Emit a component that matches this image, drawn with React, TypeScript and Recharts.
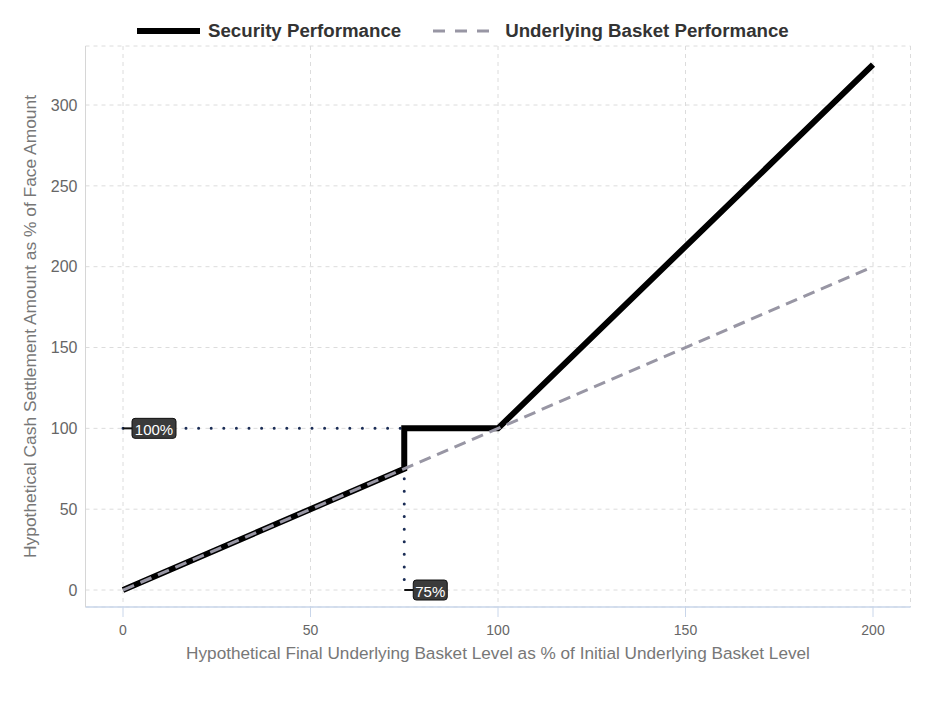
import React from 'react';
import {
  LineChart,
  Line,
  XAxis,
  YAxis,
  CartesianGrid,
  ReferenceLine,
  ReferenceDot,
  Legend,
} from 'recharts';

// ---- data ----
const securityLevels = [0, 75, 75, 100, 200];
const securityValues = [0, 75, 100, 100, 325];
const basketLevels = [0, 200];
const basketValues = [0, 200];
const xTicks = [0, 50, 100, 150, 200];
const yTicks = [0, 50, 100, 150, 200, 250, 300];
const seriesNames = ['Security Performance', 'Underlying Basket Performance'];
const annotationX = [0, 75];
const annotationY = [100, 0];
const annotationLabels = ['100%', '75%'];
const guideH = [
  { x: 0, y: 100 },
  { x: 75, y: 100 },
];
const guideV = [
  { x: 75, y: 100 },
  { x: 75, y: 0 },
];
const xLabel = 'Hypothetical Final Underlying Basket Level as % of Initial Underlying Basket Level';
const yLabel = 'Hypothetical Cash Settlement Amount as % of Face Amount';

const securityData = securityLevels.map((x, i) => ({ x, y: securityValues[i] }));
const basketData = basketLevels.map((x, i) => ({ x, y: basketValues[i] }));

const FONT = '"Liberation Sans", Arial, Helvetica, sans-serif';
const GUIDE = '#1a2c55';

const AnnotationShape = (props: any) => {
  const { cx, cy, label } = props;
  if (cx == null || cy == null) return null;
  const w = label.length * 10 + 4;
  const h = 20;
  const bx = cx + 9;
  return (
    <g>
      <line x1={cx} y1={cy} x2={bx} y2={cy} stroke="#111" strokeWidth={2} />
      <rect x={bx} y={cy - h / 2} width={w} height={h} rx={3} ry={3} fill="#3b3b3b" stroke="#111" strokeWidth={1} />
      <text
        x={bx + w / 2}
        y={cy + 1}
        textAnchor="middle"
        dominantBaseline="central"
        fill="#ffffff"
        fontSize={15}
        fontFamily={FONT}
      >
        {label}
      </text>
    </g>
  );
};

const LegendContent = () => (
  <div
    style={{
      display: 'flex',
      alignItems: 'center',
      marginLeft: 129,
      fontFamily: FONT,
      fontWeight: 'bold',
      fontSize: 18.7,
      color: '#333',
      height: 24,
      whiteSpace: 'nowrap',
    }}
  >
    <svg width={63} height={10} style={{ marginRight: 8 }}>
      <line x1={0} y1={5} x2={63} y2={5} stroke="#000" strokeWidth={6} />
    </svg>
    <span>{seriesNames[0]}</span>
    <svg width={58} height={10} style={{ marginLeft: 32, marginRight: 14 }}>
      <line x1={0} y1={5} x2={58} y2={5} stroke="#9896a4" strokeWidth={3} strokeDasharray="12 10" />
    </svg>
    <span>{seriesNames[1]}</span>
  </div>
);

export default function App() {
  return (
    <div style={{ width: 922, height: 690, background: '#fff' }}>
      <LineChart
        width={922}
        height={690}
        margin={{ top: 38, right: 19.5, left: 0, bottom: 0 }}
        style={{ fontFamily: FONT }}
      >
        <CartesianGrid stroke="#dcdcdc" strokeDasharray="4 4" strokeWidth={1} />
        <XAxis
          type="number"
          dataKey="x"
          domain={[-10, 210]}
          ticks={xTicks}
          allowDataOverflow
          height={91}
          stroke="#c9d6ea"
          tickSize={10}
          tickMargin={8}
          tickLine={{ stroke: '#c9d6ea' }}
          axisLine={{ stroke: '#c9d6ea', strokeWidth: 1.5 }}
          tick={{ fill: '#666', fontSize: 14, fontFamily: FONT }}
          label={{
            content: (p: any) => {
              const vb = p.viewBox || { x: 77.5, y: 599, width: 825 };
              return (
                <text
                  x={vb.x + vb.width / 2}
                  y={vb.y + 52}
                  textAnchor="middle"
                  fill="#777"
                  fontSize={17.2}
                  fontFamily={FONT}
                >
                  {xLabel}
                </text>
              );
            },
          }}
        />
        <XAxis
          xAxisId="top"
          orientation="top"
          type="number"
          domain={[-10, 210]}
          height={0}
          tick={false}
          tickLine={false}
          axisLine={{ stroke: '#d6d6d6' }}
        />
        <YAxis
          type="number"
          domain={[-10.5, 336.5]}
          ticks={yTicks}
          allowDataOverflow
          width={77.5}
          tickLine={false}
          axisLine={{ stroke: '#d6d6d6' }}
          tick={{ fill: '#666', fontSize: 16, fontFamily: FONT }}
          label={{
            content: (p: any) => {
              const vb = p.viewBox || { x: 0, y: 38, height: 561 };
              const cx = vb.x + 22;
              const cy = vb.y + vb.height / 2;
              return (
                <text
                  x={cx}
                  y={cy}
                  transform={`rotate(-90 ${cx} ${cy})`}
                  textAnchor="middle"
                  dominantBaseline="central"
                  fill="#777"
                  fontSize={17.4}
                  fontFamily={FONT}
                >
                  {yLabel}
                </text>
              );
            },
          }}
        />
        <YAxis
          yAxisId="right"
          orientation="right"
          type="number"
          domain={[-10.5, 336.5]}
          width={0}
          tick={false}
          tickLine={false}
          axisLine={{ stroke: '#d6d6d6' }}
        />
        <ReferenceLine
          segment={guideH}
          stroke={GUIDE}
          strokeWidth={3}
          strokeDasharray="0 12.6"
          strokeLinecap="round"
        />
        <ReferenceLine
          segment={guideV}
          stroke={GUIDE}
          strokeWidth={3}
          strokeDasharray="0 12.6"
          strokeLinecap="round"
        />
        <Line
          data={securityData}
          dataKey="y"
          name={seriesNames[0]}
          type="linear"
          stroke="#000"
          strokeWidth={6}
          dot={false}
          activeDot={false}
          isAnimationActive={false}
        />
        <Line
          data={basketData}
          dataKey="y"
          name={seriesNames[1]}
          type="linear"
          stroke="#9896a4"
          strokeWidth={3}
          strokeDasharray="12 7"
          dot={false}
          activeDot={false}
          isAnimationActive={false}
        />
        {annotationLabels.map((lab, i) => (
          <ReferenceDot
            key={lab}
            x={annotationX[i]}
            y={annotationY[i]}
            r={0}
            shape={(p: any) => <AnnotationShape {...p} label={lab} />}
          />
        ))}
        <Legend
          verticalAlign="middle"
          align="center"
          wrapperStyle={{ top: 11, left: 0, width: 922 }}
          content={() => <LegendContent />}
        />
      </LineChart>
    </div>
  );
}
